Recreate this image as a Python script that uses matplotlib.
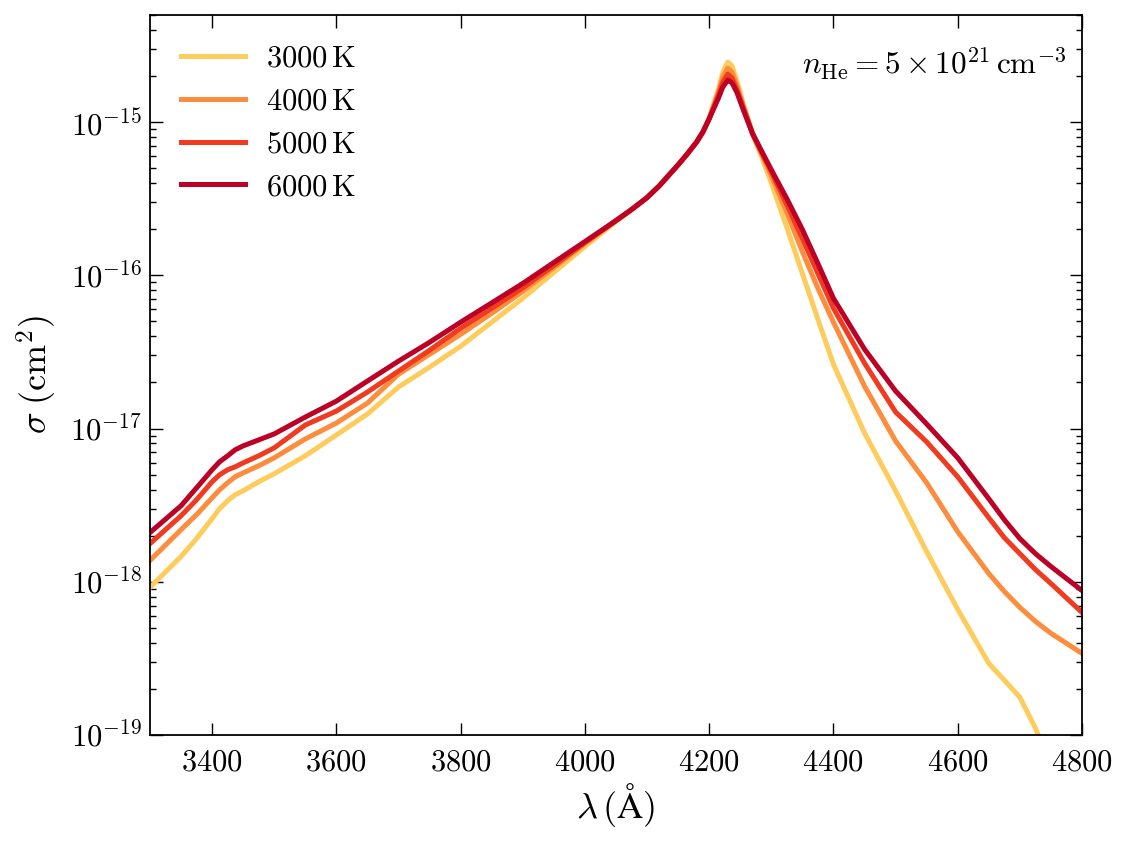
import numpy as np
import matplotlib
matplotlib.use("Agg")
import matplotlib.pyplot as plt
from matplotlib.ticker import LogLocator, FixedLocator, NullLocator

plt.rcParams['mathtext.fontset'] = 'cm'
plt.rcParams['font.family'] = 'serif'
plt.rcParams['font.serif'] = ['cmr10', 'DejaVu Serif']
plt.rcParams['axes.formatter.use_mathtext'] = True
plt.rcParams['axes.unicode_minus'] = False

# wavelength grid (Angstrom)
wavelength = [3300, 3350, 3375, 3400, 3412, 3425, 3437, 3450, 3475, 3500,
              3550, 3600, 3650, 3700, 3750, 3800, 3850, 3900, 3950, 4000,
              4050, 4075, 4100, 4120, 4150, 4165, 4180, 4190, 4200, 4215,
              4222, 4230, 4237, 4245, 4255, 4270, 4285, 4300, 4325, 4350,
              4375, 4400, 4450, 4500, 4550, 4600, 4650, 4675, 4700, 4725,
              4750, 4800]

# log10 of cross-section sigma (cm^2)
log_sigma_3000 = [-18.037, -17.835, -17.718, -17.588, -17.523, -17.471, -17.432, -17.406, -17.347, -17.295,
                  -17.178, -17.042, -16.905, -16.729, -16.599, -16.463, -16.306, -16.150, -15.981, -15.812,
                  -15.649, -15.571, -15.493, -15.415, -15.279, -15.207, -15.129, -15.064, -14.973, -14.784,
                  -14.674, -14.608, -14.634, -14.739, -14.882, -15.077, -15.233, -15.396, -15.688, -15.988,
                  -16.287, -16.580, -17.029, -17.406, -17.803, -18.180, -18.532, -18.642, -18.753, -18.954,
                  -19.195, -19.618]
log_sigma_4000 = [-17.861, -17.660, -17.562, -17.452, -17.400, -17.354, -17.315, -17.289, -17.243, -17.191,
                  -17.068, -16.964, -16.834, -16.645, -16.515, -16.385, -16.248, -16.105, -15.949, -15.793,
                  -15.643, -15.571, -15.493, -15.415, -15.279, -15.207, -15.129, -15.064, -14.979, -14.804,
                  -14.706, -14.648, -14.674, -14.765, -14.895, -15.077, -15.214, -15.350, -15.591, -15.845,
                  -16.085, -16.306, -16.723, -17.081, -17.354, -17.673, -17.946, -18.063, -18.167, -18.258,
                  -18.336, -18.467]
log_sigma_5000 = [-17.751, -17.569, -17.465, -17.347, -17.302, -17.269, -17.250, -17.224, -17.178, -17.126,
                  -16.977, -16.886, -16.762, -16.625, -16.489, -16.346, -16.215, -16.082, -15.936, -15.786,
                  -15.643, -15.571, -15.493, -15.415, -15.279, -15.207, -15.129, -15.064, -14.979, -14.823,
                  -14.739, -14.687, -14.713, -14.791, -14.908, -15.077, -15.201, -15.324, -15.539, -15.760,
                  -15.988, -16.215, -16.573, -16.892, -17.087, -17.315, -17.582, -17.712, -17.816, -17.920,
                  -18.011, -18.200]
log_sigma_6000 = [-17.679, -17.504, -17.387, -17.269, -17.217, -17.178, -17.139, -17.113, -17.074, -17.035,
                  -16.925, -16.821, -16.690, -16.560, -16.437, -16.306, -16.180, -16.053, -15.916, -15.780,
                  -15.643, -15.571, -15.493, -15.415, -15.279, -15.207, -15.129, -15.064, -14.979, -14.843,
                  -14.771, -14.726, -14.745, -14.810, -14.921, -15.077, -15.194, -15.311, -15.500, -15.701,
                  -15.923, -16.150, -16.482, -16.755, -16.970, -17.191, -17.458, -17.595, -17.718, -17.816,
                  -17.900, -18.057]

labels = [r'$3000\,\mathrm{K}$', r'$4000\,\mathrm{K}$',
          r'$5000\,\mathrm{K}$', r'$6000\,\mathrm{K}$']
colors = ['#fecc5c', '#fd8d3c', '#f03b20', '#bd0026']
series = [log_sigma_3000, log_sigma_4000, log_sigma_5000, log_sigma_6000]

xticks = [3400, 3600, 3800, 4000, 4200, 4400, 4600, 4800]
yticks = [1e-19, 1e-18, 1e-17, 1e-16, 1e-15]

fig = plt.figure(figsize=(11.3, 8.41), dpi=100)
ax = fig.add_axes([0.1327, 0.126, 0.9575 - 0.1327, 0.9822 - 0.126])

wl = np.array(wavelength, dtype=float)
for s, lab, c in zip(series, labels, colors):
    ax.plot(wl, 10.0 ** np.array(s), color=c, lw=3.6, label=lab,
            solid_joinstyle='round')

ax.set_yscale('log')
ax.set_xlim(3300, 4800)
ax.set_ylim(1e-19, 5e-15)

ax.xaxis.set_major_locator(FixedLocator(xticks))
ax.xaxis.set_minor_locator(NullLocator())
ax.yaxis.set_major_locator(FixedLocator(yticks))
ax.yaxis.set_minor_locator(LogLocator(base=10, subs=np.arange(2, 10), numticks=20))

ax.tick_params(which='both', direction='in', top=True, right=True, labelsize=22)
ax.tick_params(which='major', length=9, width=1.0)
ax.tick_params(which='minor', length=4.5, width=1.0)
ax.tick_params(axis='x', pad=10)
ax.tick_params(axis='y', pad=6)
for sp in ax.spines.values():
    sp.set_linewidth(1.3)

ax.set_xlabel(r'$\lambda\,(\mathrm{\AA})$', fontsize=26, labelpad=3)
ax.set_ylabel(r'$\sigma\;(\mathrm{cm}^2)$', fontsize=26, labelpad=8)

ax.text(0.983, 0.958, r'$n_{\mathrm{He}} = 5\times10^{21}\,\mathrm{cm}^{-3}$',
        transform=ax.transAxes, ha='right', va='top', fontsize=22.5)

ax.legend(loc='upper left', frameon=False, fontsize=22, handlelength=2.1,
          handletextpad=0.7, labelspacing=0.5, borderaxespad=0.6)

fig.savefig('out.png', dpi=100)
